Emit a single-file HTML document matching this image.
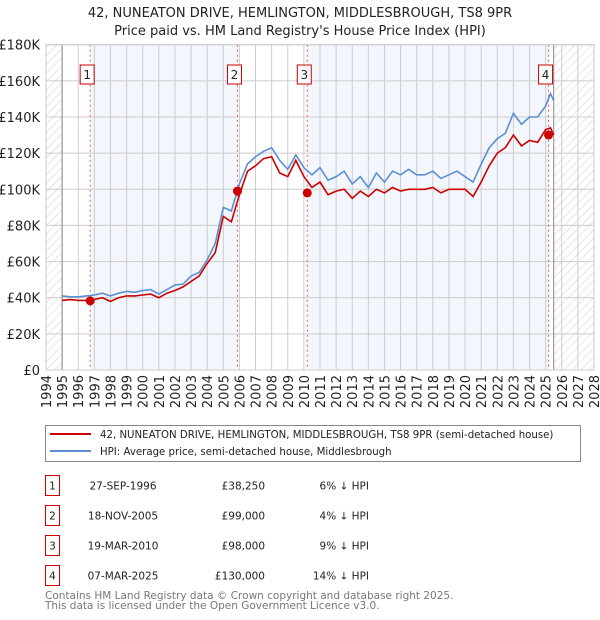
<!DOCTYPE html>
<html><head><meta charset="utf-8"><style>
body{margin:0;background:#fff;font-family:"Liberation Sans","DejaVu Sans",sans-serif;}
#wrap{position:relative;width:600px;height:620px;overflow:hidden;}
svg text{font-family:"DejaVu Sans","Liberation Sans",sans-serif;}
</style></head><body>
<div id="wrap">
<svg id="chart" width="600" height="620"></svg>
</div>
<script>
const years=[1995,1995.5,1996,1996.5,1997,1997.5,1998,1998.5,1999,1999.5,2000,2000.5,2001,2001.5,2002,2002.5,2003,2003.5,2004,2004.5,2005,2005.5,2006,2006.5,2007,2007.5,2008,2008.5,2009,2009.5,2010,2010.5,2011,2011.5,2012,2012.5,2013,2013.5,2014,2014.5,2015,2015.5,2016,2016.5,2017,2017.5,2018,2018.5,2019,2019.5,2020,2020.5,2021,2021.5,2022,2022.5,2023,2023.5,2024,2024.5,2025,2025.3,2025.5];
const hpiValues=[41,40.5,40.5,41,41.5,42.5,41,42.5,43.5,43,44,44.5,42,44.5,47,47.5,52,54,61,70,90,88,103,114,118,121,123,116,111,119,112,108,112,105,107,110,103,107,101,109,104,110,108,111,108,108,110,106,108,110,107,104,114,123,128,131,142,136,140,140,146,153,149];
const propertyValues=[38.5,39,38.5,38.5,39,40,38,40,41,41,41.5,42,40,42.5,44,46,49,52,59,65,85,82,97,110,113,117,118,109,107,116,107,101,104,97,99,100,95,99,96,100,98,101,99,100,100,100,101,98,100,100,100,96,104,113,120,123,130,124,127,126,133,134,130];
const saleDates=[1996.74,2005.88,2010.21,2025.18];
const salePrices=[38.25,99,98,130];
const saleLabels=["1","2","3","4"];
const yTicks=[0,20,40,60,80,100,120,140,160,180];
const yTickLabels=["£0","£20K","£40K","£60K","£80K","£100K","£120K","£140K","£160K","£180K"];
const xTickYears=[1994,1995,1996,1997,1998,1999,2000,2001,2002,2003,2004,2005,2006,2007,2008,2009,2010,2011,2012,2013,2014,2015,2016,2017,2018,2019,2020,2021,2022,2023,2024,2025,2026,2027,2028];
const tableDates=["27-SEP-1996","18-NOV-2005","19-MAR-2010","07-MAR-2025"];
const tablePrices=["£38,250","£99,000","£98,000","£130,000"];
const tableDiffs=["6% ↓ HPI","4% ↓ HPI","9% ↓ HPI","14% ↓ HPI"];

const L=46,R=594,T=44.7,B=370;
const X=y=>L+(y-1994)/(2028-1994)*(R-L);
const Y=v=>B-v/180*(B-T);
const svg=document.getElementById('chart');
const NS='http://www.w3.org/2000/svg';
function mk(tag,attrs,parent){const e=document.createElementNS(NS,tag);for(const k in attrs)e.setAttribute(k,attrs[k]);(parent||svg).appendChild(e);return e;}

const defs=mk('defs',{});
const pat=mk('pattern',{id:'hatch',width:6,height:6,patternUnits:'userSpaceOnUse',patternTransform:'rotate(45)'},defs);
mk('line',{x1:0,y1:0,x2:0,y2:6,stroke:'#ccc','stroke-width':1},pat);

let t=mk('text',{x:300,y:17,'text-anchor':'middle','font-size':13,fill:'#222'});t.textContent='42, NUNEATON DRIVE, HEMLINGTON, MIDDLESBROUGH, TS8 9PR';

t=mk('text',{x:300,y:35,'text-anchor':'middle','font-size':13,fill:'#222'});t.textContent="Price paid vs. HM Land Registry's House Price Index (HPI)";


let r=mk('rect',{x:L,y:T,width:R-L,height:B-T,fill:'#fff'});

r=mk('rect',{x:X(saleDates[0]),y:T,width:X(saleDates[1])-X(saleDates[0]),height:B-T,fill:'#f3f6fd'});

r=mk('rect',{x:X(saleDates[2]),y:T,width:X(saleDates[3])-X(saleDates[2]),height:B-T,fill:'#f3f6fd'});

r=mk('rect',{x:L,y:T,width:X(1995)-L,height:B-T,fill:'url(#hatch)'});

const endYear=years[years.length-1];
r=mk('rect',{x:X(endYear),y:T,width:R-X(endYear),height:B-T,fill:'url(#hatch)'});


xTickYears.forEach((yr,i)=>{
  const l=mk('line',{x1:X(yr),x2:X(yr),y1:T,y2:B,stroke:'#ccc','stroke-width':1});
  
  const tx=mk('text',{x:0,y:0,'font-size':13,fill:'#222','text-anchor':'end',transform:`translate(${X(yr)+5},${B+5}) rotate(-90)`});
  tx.textContent=yr;
  
});
yTicks.forEach((v,i)=>{
  const l=mk('line',{x1:L,x2:R,y1:Y(v),y2:Y(v),stroke:'#ccc','stroke-width':1});
  
  const tx=mk('text',{x:40,y:Y(v)+5,'font-size':13,fill:'#222','text-anchor':'end'});
  tx.textContent=yTickLabels[i];
  
});
let ln=mk('line',{x1:X(1995),x2:X(1995),y1:T,y2:B,stroke:'#888','stroke-width':1});

ln=mk('line',{x1:X(endYear),x2:X(endYear),y1:T,y2:B,stroke:'#888','stroke-width':1});


saleDates.forEach((d,i)=>{
  const l=mk('line',{x1:X(d),x2:X(d),y1:T,y2:B,stroke:'#f55','stroke-width':1,'stroke-dasharray':'2,3'});
  
});

let p=mk('polyline',{points:years.map((y,i)=>X(y)+','+Y(hpiValues[i])).join(' '),fill:'none',stroke:'#5b8fd4','stroke-width':1.6});

p=mk('polyline',{points:years.map((y,i)=>X(y)+','+Y(propertyValues[i])).join(' '),fill:'none',stroke:'#cc0000','stroke-width':1.6});


saleDates.forEach((d,i)=>{
  const c=mk('circle',{cx:X(d),cy:Y(salePrices[i]),r:4.5,fill:'#cc0000'});
  
  const g=mk('g',{});
  
  mk('rect',{x:X(d)-10,y:65,width:14,height:19,fill:'#fff',stroke:'#cc0000','stroke-width':1},g);
  const tx=mk('text',{x:X(d)-3,y:79,'font-size':12,'text-anchor':'middle',fill:'#222'},g);tx.textContent=saleLabels[i];
});
r=mk('rect',{x:L,y:T,width:R-L,height:B-T,fill:'none',stroke:'#ccc'});


// legend
const lg=mk('g',{});
mk('rect',{x:45.5,y:425.5,width:535,height:36,fill:'#fff',stroke:'#888'},lg);
mk('line',{x1:50,x2:91,y1:434,y2:434,stroke:'#cc0000','stroke-width':2},lg);
mk('line',{x1:50,x2:91,y1:451,y2:451,stroke:'#5b8fd4','stroke-width':2},lg);
t=mk('text',{x:100,y:438,'font-size':10.2,fill:'#222'},lg);t.textContent='42, NUNEATON DRIVE, HEMLINGTON, MIDDLESBROUGH, TS8 9PR (semi-detached house)';

t=mk('text',{x:100,y:455,'font-size':10.2,fill:'#222'},lg);t.textContent='HPI: Average price, semi-detached house, Middlesbrough';


// table
tableDates.forEach((d,i)=>{
  const y0=475.5+i*30;
  const g=mk('g',{});
  mk('rect',{x:45.5,y:y0,width:14,height:20,fill:'#fff',stroke:'#cc0000'},g);
  let a=mk('text',{x:52.5,y:y0+14,'font-size':10.5,'text-anchor':'middle',fill:'#222'},g);a.textContent=saleLabels[i];
  a=mk('text',{x:123,y:y0+14,'font-size':10.5,'text-anchor':'middle',fill:'#222'},g);a.textContent=d;
  a=mk('text',{x:265,y:y0+14,'font-size':10.5,'text-anchor':'end',fill:'#222'},g);a.textContent=tablePrices[i];
  a=mk('text',{x:369,y:y0+14,'font-size':10.5,'text-anchor':'end',fill:'#222'},g);a.textContent=tableDiffs[i];
});
t=mk('text',{x:45,y:599,'font-size':10.5,fill:'#777'});t.textContent='Contains HM Land Registry data © Crown copyright and database right 2025.';

t=mk('text',{x:45,y:609,'font-size':10.5,fill:'#777'});t.textContent='This data is licensed under the Open Government Licence v3.0.';

</script>
</body></html>
